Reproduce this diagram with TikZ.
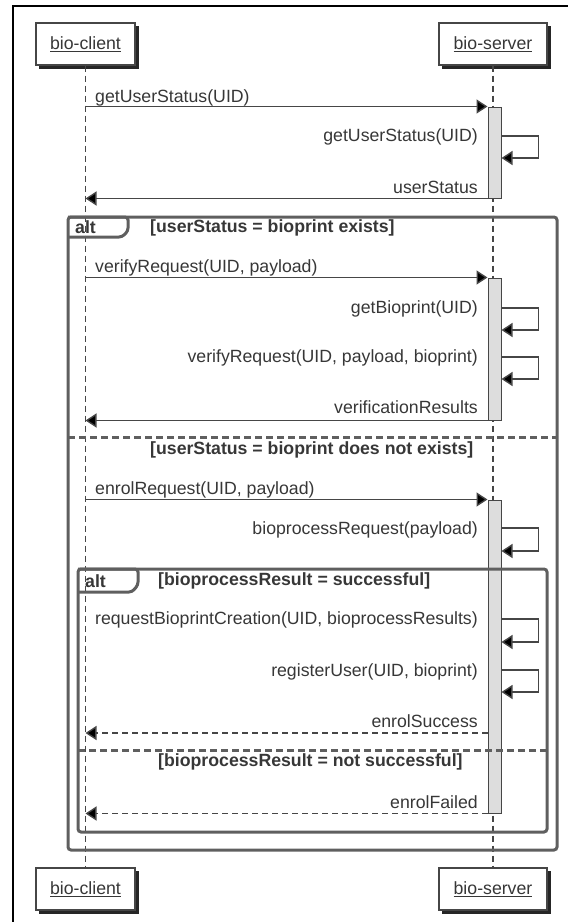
\documentclass[tikz,border=0pt]{standalone}
\usepackage{fontspec}
\setmainfont{Liberation Sans}
\usetikzlibrary{arrows.meta}

\begin{document}
\begin{tikzpicture}[x=1pt,y=-1pt,
	lbl/.style={inner sep=0pt, text=txtgray, font=\fontsize{17.7}{20}\selectfont},
	grd/.style={lbl, font=\fontsize{17.7}{20}\selectfont\bfseries},
	actor/.style={draw=lngray, line width=1.2pt, fill=white, minimum height=42pt, inner sep=0pt, text=txtgray, font=\fontsize{17.7}{20}\selectfont},
	lifeline/.style={lngray, line width=1.2pt, dash pattern=on 6pt off 4pt},
	actbar/.style={draw=lngray, fill=barfill, line width=1pt, minimum width=13pt, inner sep=0pt},
	msg/.style={lngray, line width=1.4pt, -{Triangle[length=11pt,width=14pt,fill=black]}},
	reply/.style={msg, dash pattern=on 6pt off 4pt},
	frm/.style={frgray, line width=3pt, rounded corners=3pt},
	sep/.style={frgray, line width=3pt, dash pattern=on 7pt off 4pt}]

	\definecolor{txtgray}{RGB}{55,55,55}
	\definecolor{lngray}{RGB}{70,70,70}
	\definecolor{frgray}{RGB}{95,95,95}
	\definecolor{barfill}{RGB}{221,221,221}

	\useasboundingbox (0,0) rectangle (573,922);
	\draw[black, line width=1.5pt] (13,922)--(13,6)--(568,6);

%Teilnehmer
	\node[actor, minimum width=99pt] (cltop) at (85.5,44) {\underline{bio-client}};
	\node[actor, minimum width=108pt] (srvtop) at (493,44) {\underline{bio-server}};
	\node[actor, minimum width=99pt] (cltbot) at (85.5,889) {\underline{bio-client}};
	\node[actor, minimum width=108pt] (srvbot) at (493,889) {\underline{bio-server}};
	%Schatten
	\foreach \p in {cltop,srvtop,cltbot,srvbot}{
		\fill[black!85] ([xshift=3.5pt,yshift=-0.6pt]\p.south west) rectangle ([xshift=3.5pt,yshift=-3.5pt]\p.south east);
		\fill[black!85] ([xshift=0.6pt,yshift=-3.5pt]\p.north east) rectangle ([xshift=3.5pt,yshift=-3.5pt]\p.south east);
	}
	\draw[lifeline] (cltop.south)--(cltbot.north);
	\draw[lifeline] (srvtop.south)--(srvbot.north);

%Aktivierungen
	\node[actbar, minimum height=91pt] (act1) at (494.5,152.5) {};
	\node[actbar, minimum height=142pt] (act2) at (494.5,349) {};
	\node[actbar, minimum height=313pt] (act3) at (494.5,656.5) {};

%Status
	\draw[msg] (cltop |- act1.north)--(act1.north west);
	\node[lbl, anchor=west] (m1) at (95,98) {getUserStatus(UID)};
	\draw[msg] (act1.east |- 0,136)--++(37,0)--++(0,22)--++(-37,0);
	\node[lbl, anchor=east] (s1) at (478,137) {getUserStatus(UID)};
	\draw[msg] (act1.south west)--(cltop |- act1.south);
	\node[lbl, anchor=east] (r1) at (478,187) {userStatus};

%alt aussen
	\draw[frm] (68,217) rectangle (557,850);
	\draw[frm] (68,217)--(128,217)--(128,231)--(122,237)--(68,237);
	\node[grd, anchor=west] (alt1) at (75,227) {alt};
	\node[grd, anchor=west] (g1) at (150,228) {[userStatus = bioprint exists]};

	\draw[msg] (cltop |- act2.north)--(act2.north west);
	\node[lbl, anchor=west] (m2) at (95,268) {verifyRequest(UID, payload)};
	\draw[msg] (act2.east |- 0,308)--++(37,0)--++(0,22)--++(-37,0);
	\node[lbl, anchor=east] (s2) at (478,309) {getBioprint(UID)};
	\draw[msg] (act2.east |- 0,357)--++(37,0)--++(0,22)--++(-37,0);
	\node[lbl, anchor=east] (s3) at (478,358) {verifyRequest(UID, payload, bioprint)};
	\draw[msg] (act2.south west)--(cltop |- act2.south);
	\node[lbl, anchor=east] (r2) at (478,407) {verificationResults};

	\draw[sep] (68,437)--(557,437);
	\node[grd, anchor=west] (g2) at (150,450) {[userStatus = bioprint does not exists]};

	\draw[msg] (cltop |- act3.north)--(act3.north west);
	\node[lbl, anchor=west] (m3) at (95,490) {enrolRequest(UID, payload)};
	\draw[msg] (act3.east |- 0,528)--++(37,0)--++(0,23)--++(-37,0);
	\node[lbl, anchor=east] (s4) at (478,530) {bioprocessRequest(payload)};

%alt innen
	\draw[frm] (78,569) rectangle (547,832);
	\draw[frm] (78,569)--(138,569)--(138,585)--(132,592)--(78,592);
	\node[grd, anchor=west] (alt2) at (85,581) {alt};
	\node[grd, anchor=west] (g3) at (158,581) {[bioprocessResult = successful]};

	\draw[msg] (act3.east |- 0,619)--++(37,0)--++(0,23)--++(-37,0);
	\node[lbl, anchor=east] (s5) at (478,620) {requestBioprintCreation(UID, bioprocessResults)};
	\draw[msg] (act3.east |- 0,670)--++(37,0)--++(0,22)--++(-37,0);
	\node[lbl, anchor=east] (s6) at (478,672) {registerUser(UID, bioprint)};
	\draw[reply] (act3.west |- 0,733)--(cltop |- 0,733);
	\node[lbl, anchor=east] (r3) at (478,721) {enrolSuccess};

	\draw[sep] (78,750)--(547,750);
	\node[grd, anchor=west] (g4) at (158,762) {[bioprocessResult = not successful]};

	\draw[reply] (act3.south west)--(cltop |- act3.south);
	\node[lbl, anchor=east] (r4) at (478,802) {enrolFailed};

\end{tikzpicture}
\end{document}
